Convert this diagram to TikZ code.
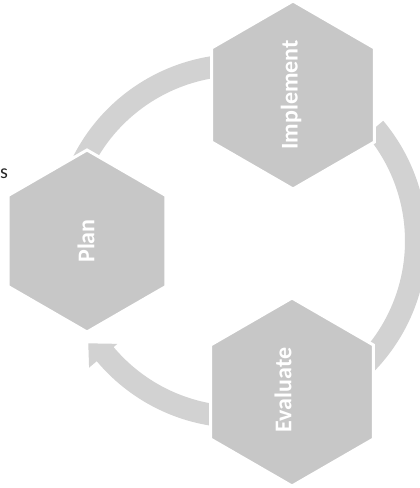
\documentclass[tikz,border=0pt]{standalone}
\usepackage{fontspec}
\setmainfont{Carlito}
\usetikzlibrary{shapes.geometric,calc}
\definecolor{hexfill}{RGB}{199,199,199}
\definecolor{bandfill}{RGB}{210,210,210}
\begin{document}
\begin{tikzpicture}[x=1pt,y=-1pt,
  hexa/.style={regular polygon, regular polygon sides=6, shape border rotate=30, fill=hexfill, draw=white, line width=3pt, inner sep=0pt, minimum size=#1},
  band/.style={fill=bandfill},
  lbl/.style={text=white, font=\fontsize{24}{24}\selectfont\bfseries, rotate=90, inner sep=0pt}]
\fill[white] (0,0) rectangle (420,488);
\useasboundingbox (0,0) rectangle (420,488);
\clip (0,0) rectangle (420,488);
\coordinate (C) at (240,241);
% band Plan -> Implement
\fill[band] ($(C)+(-160:187)$) arc[start angle=-160, end angle=-80, radius=187]
  -- ($(C)+(-80:197)$) -- ($(C)+(-72:176)$) -- ($(C)+(-80:155)$) -- ($(C)+(-80:165)$)
  arc[start angle=-80, end angle=-160, radius=165] -- cycle;
% band Implement -> Evaluate
\fill[band] ($(C)+(-40:187)$) arc[start angle=-40, end angle=52, radius=187]
  -- ($(C)+(52:197)$) -- ($(C)+(60:176)$) -- ($(C)+(52:155)$) -- ($(C)+(52:165)$)
  arc[start angle=52, end angle=-40, radius=165] -- cycle;
% band Evaluate -> Plan
\fill[band] ($(C)+(95:187)$) arc[start angle=95, end angle=140, radius=187]
  -- ($(C)+(140:197)$) -- ($(C)+(146:183)$) -- ($(C)+(140:160)$) -- ($(C)+(140:165)$)
  arc[start angle=140, end angle=95, radius=165] -- cycle;
% hexagons
\node[hexa=182pt] (plan) at (87,241) {};
\node[hexa=188pt] (impl) at (293,95) {};
\node[hexa=188pt] (eval) at (292,392) {};
% labels
\node[lbl] (planT) at (86,241) {Plan};
\node[lbl] (implT) at (291,95) {Implement};
\node[lbl] (evalT) at (283,390) {Evaluate};
% fragment at left edge
\node[anchor=west, text=black!85, font=\fontsize{20}{20}\selectfont, inner sep=0pt] (frag) at (0,174) {s};
\end{tikzpicture}
\end{document}
